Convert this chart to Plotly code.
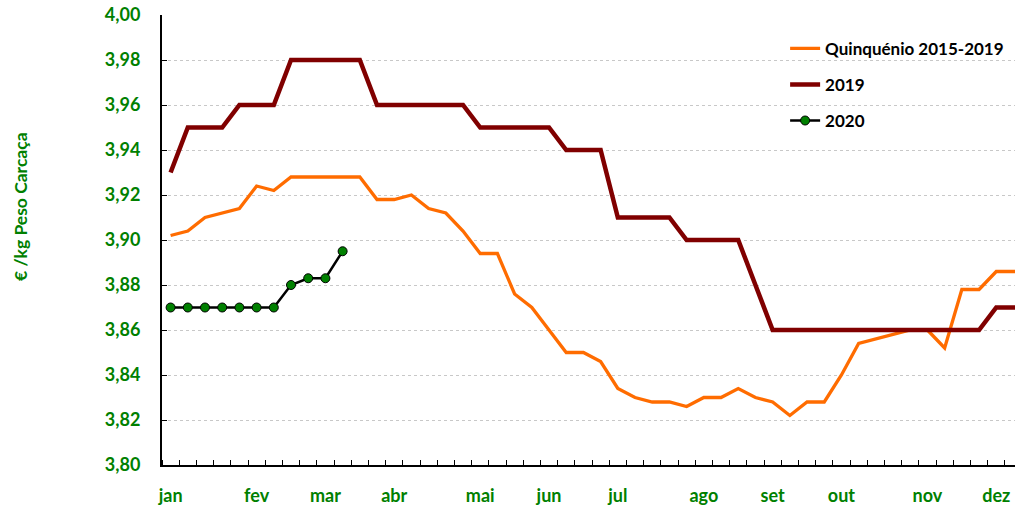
import plotly.graph_objects as go

# Weeks of the year (x positions are week numbers)
weeks_quinq = list(range(1, 53))
quinquenio = [3.902, 3.904, 3.910, 3.912, 3.914, 3.924, 3.922, 3.928, 3.928, 3.928,
              3.928, 3.928, 3.918, 3.918, 3.920, 3.914, 3.912, 3.904, 3.894, 3.894,
              3.876, 3.870, 3.860, 3.850, 3.850, 3.846, 3.834, 3.830, 3.828, 3.828,
              3.826, 3.830, 3.830, 3.834, 3.830, 3.828, 3.822, 3.828, 3.828, 3.840,
              3.854, 3.856, 3.858, 3.860, 3.860, 3.852, 3.878, 3.878, 3.886, 3.886,
              3.886, 3.886]

weeks_2019 = list(range(1, 53))
y2019 = [3.93, 3.95, 3.95, 3.95, 3.96, 3.96, 3.96, 3.98, 3.98, 3.98,
         3.98, 3.98, 3.96, 3.96, 3.96, 3.96, 3.96, 3.96, 3.95, 3.95,
         3.95, 3.95, 3.95, 3.94, 3.94, 3.94, 3.91, 3.91, 3.91, 3.91,
         3.90, 3.90, 3.90, 3.90, 3.88, 3.86, 3.86, 3.86, 3.86, 3.86,
         3.86, 3.86, 3.86, 3.86, 3.86, 3.86, 3.86, 3.86, 3.87, 3.87,
         3.87, 3.87]

weeks_2020 = list(range(1, 12))
y2020 = [3.870, 3.870, 3.870, 3.870, 3.870, 3.870, 3.870, 3.880, 3.883, 3.883, 3.895]

month_weeks = [1, 6, 10, 14, 19, 23, 27, 32, 36, 40, 45, 49]
month_labels = ["jan", "fev", "mar", "abr", "mai", "jun", "jul", "ago", "set", "out", "nov", "dez"]

GREEN = "rgb(0,128,0)"
FONT = "Lato"

fig = go.Figure()
fig.add_trace(go.Scatter(x=weeks_quinq, y=quinquenio, mode="lines",
                         name="Quinquénio 2015-2019", legendgroup="a",
                         line=dict(color="rgb(255,108,0)", width=3.3)))
fig.add_trace(go.Scatter(x=weeks_2019, y=y2019, mode="lines",
                         name="2019", legendgroup="b",
                         line=dict(color="rgb(128,0,0)", width=4.5)))
fig.add_trace(go.Scatter(x=weeks_2020, y=y2020, mode="lines+markers",
                         name="2020", legendgroup="c",
                         line=dict(color="black", width=2.5),
                         marker=dict(color=GREEN, size=9, line=dict(color="black", width=1))))

fig.update_layout(
    width=1015, height=508,
    margin=dict(l=162, r=0, t=15, b=43, autoexpand=False),
    paper_bgcolor="white", plot_bgcolor="white",
    separators=",.",
    showlegend=True,
    legend=dict(x=0.7305, y=0.965, xanchor="left", yanchor="top",
                font=dict(family=FONT, size=17, color="black", weight="bold"),
                traceorder="grouped", tracegroupgap=11,
                bgcolor="rgba(0,0,0,0)"),
    font=dict(family=FONT),
)

fig.update_xaxes(
    range=[0.5, 50.09], automargin=False,
    tickmode="array", tickvals=month_weeks, ticktext=month_labels,
    ticks="", showgrid=False, zeroline=False,
    showline=True, linecolor="black", linewidth=2,
    tickfont=dict(family=FONT, size=18, color=GREEN, weight="bold"),
    ticklabelstandoff=13,
    minor=dict(tickmode="linear", tick0=0.5, dtick=1, ticks="inside",
               ticklen=5, tickwidth=1, tickcolor="black", showgrid=False),
)

fig.update_yaxes(
    range=[3.80, 4.00], dtick=0.02, tick0=3.80, tickformat=".2f", automargin=False,
    ticks="inside", ticklen=5, tickwidth=1, tickcolor="black",
    showgrid=True, gridcolor="rgb(200,200,200)", griddash="dot", gridwidth=1,
    zeroline=False, showline=True, linecolor="black", linewidth=2,
    tickfont=dict(family=FONT, size=18, color=GREEN, weight="bold"),
    ticklabelstandoff=16,
)

fig.add_annotation(
    text="€ /kg Peso Carcaça", textangle=-90,
    xref="paper", yref="paper", x=(20 - 162) / 853, y=(465 - 207) / 450,
    xanchor="center", yanchor="middle", showarrow=False,
    font=dict(family=FONT, size=17.5, color=GREEN, weight="bold"),
)

fig.write_html("out.html", config={"displayModeBar": False},
               post_script="document.body.style.margin='0';")
